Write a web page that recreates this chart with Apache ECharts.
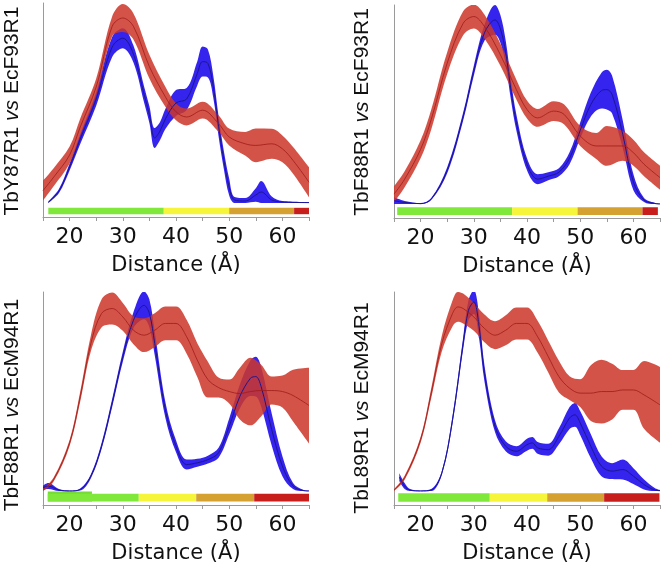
<!DOCTYPE html>
<html><head><meta charset="utf-8">
<script src="https://cdn.jsdelivr.net/npm/echarts@6/dist/echarts.min.js"></script>
<style>html,body{margin:0;padding:0;background:#fff}#c{width:664px;height:574px}</style>
</head><body><div id="c"></div>
<script>
// ---------- data (y in relative units: 0 = baseline, 100 = top) ----------
const xTickLabels = [20, 30, 40, 50, 60];
const panelTitlesA = ['TbY87R1', 'TbF88R1', 'TbF88R1', 'TbL89R1'];
const panelTitlesB = ['EcF93R1', 'EcF93R1', 'EcM94R1', 'EcM94R1'];
const xAxisTitle = 'Distance (Å)';

// Panel 1
const xRed1 = [15,17,20,22,25,28,30,32,35,38,40,42,45,48,50,53,55,58,60,62,65];
const redMid1 = [6.2,12.9,24,38,58,88.3,92.5,88.3,68.2,53.1,45.6,43.0,46.4,39.7,33.0,29.6,28.8,29.6,27.1,21.3,10.4];
const redHw1 = [5.0,4.5,4.2,4.2,4.2,5.0,7.0,6.5,5.9,5.0,4.2,4.2,4.2,4.2,4.2,5.9,8.4,7.5,6.7,6.7,7.5];
const xBlue1 = [16,18,20,22,25,28,30,32,34,35,36,37,38,40,42,44,45,46,47,48,49,50,51,53,55,56,58,60,65];
const blueMid1 = [0.3,6,18,32,52,78,82.4,74.5,54.3,44.2,32.5,36,42,50,52,64.8,70.7,69.8,58.3,38.4,21.4,7.9,1.5,1.0,4,5.5,1.5,0.5,0.2];
const blueHw1 = [0.5,1,1.7,2.5,3.4,5,5,4.2,4,4.2,5,4.5,5,6.5,5.5,6,7.5,7,5.5,5,4.5,4.2,1.5,1.5,3.4,5.5,1.7,0.5,0.3];
const barEdges1 = [16, 37.7, 50, 62.2, 65];

// Panel 2
const xRed2 = [15,17,20,22,25,28,30,32,35,38,40,42,45,47,50,53,55,58,60,62,65];
const redMid2 = [5.0,12.5,27.5,42.5,70.8,90.8,94.2,89.2,75,57.5,47.5,43.3,46.7,45,34.2,29.2,29.2,29.2,25.8,20,13.3];
const redHw2 = [4,4,4.5,5,5.5,6,6,6,5.5,5,4.5,4.5,5,5,5,6.5,10,7.5,6.5,6,6];
const xBlue2 = [15,17,20,22,25,28,30,32,34,35,36,37,38,40,42,44,46,48,50,52,54,55,56,58,60,62,64,65];
const blueMid2 = [1.7,0.8,0.2,2.5,17,44,67,86,92.5,88,76,57,41,20,12.5,14,16,23,37,50,57,57.5,55,35,11,2,0.3,0];
const blueHw2 = [1.7,0.8,0.3,0.5,1.5,2,2.5,4,7.5,7,6,5,4,3,2.5,2,2,3,4,6,9,10,9.5,7,4,1,0.3,0.2];
const barEdges2 = [15.6, 37.2, 49.5, 61.7, 64.6];

// Panel 3
const xRed3 = [15,17,20,22,24,26,28,30,32,34,36,38,40,42,44,46,48,50,52,54,56,58,60,62,65];
const redMid3 = [0.5,5.8,24.2,47.5,74.2,89.2,91.7,87.5,80.8,78.3,80.8,84.2,84.2,77.5,65.8,56,52,50,49,50,50.5,50.5,50,48,43];
const redHw3 = [0.5,1,1.5,2.5,4,7,8,7,7,8.5,8.5,8.5,8.5,8.5,8.5,9,5,6,13,17,13,7,8,13,19];
const xBlue3 = [15,16,18,20,22,24,26,28,30,32,34,35,36,38,40,42,44,46,48,50,52,54,55,56,58,60,62,64,65];
const blueMid3 = [1.7,2.5,0.5,0,0.8,7.5,22.5,44.2,67.5,85.8,93.3,89.2,74.2,40.8,22.5,13.3,14.2,15.8,19.2,32.5,47.5,56.7,57.5,52.5,30.8,12.5,2.5,0.2,0];
const blueHw3 = [1,1.5,0.5,0.3,0.5,1,1.5,2,2.5,4,7,7,6,4,3,2.5,2,2,2.5,4,6,9,10,10,8,5,1.5,0.3,0.2];
const barEdges3 = [15.9, 33, 43.8, 54.7, 65];
const barExtra3 = [15.9, 24.2];   // slightly taller green piece at the start of panel 3's bar

// Panel 4
const xRed4 = [15,17,20,22,24,26,27,28,30,32,34,36,38,40,42,44,46,48,50,52,54,56,58,60,62,65];
const redMid4 = [0.5,6.7,25.8,49.2,74.2,89.2,92.5,91.7,87.5,81.7,78.3,80.8,84.2,84.2,77.5,67.5,57.5,51.7,49.2,49.2,50,50,50.8,50.8,48.3,43.3];
const redHw4 = [0.5,1,1.5,2.5,4,6.5,7.5,7.5,7,7,7,7.5,8,8,8,8,8,6,7,14,16,14,10,10,17,19];
const xBlue4 = [16,17,18,20,22,24,26,28,29,30,31,32,34,36,38,40,41,42,44,46,48,49,50,52,54,56,58,60,62,64,65];
const blueMid4 = [7,2.5,0.5,0,0.5,9.2,35.8,74.2,90.8,95,82.5,59.2,32.5,22.5,20,23.3,24.2,21.7,20.8,27.5,36.7,38.3,34.2,22.5,12.5,10,10.8,7.5,3.3,0.5,0.2];
const blueHw4 = [2,1.5,0.5,0.3,0.5,1,2,3,5,6,6,4,3,2.5,2.5,3,3,3,3,4,5.5,6,6,6,5,4,5,4,2.5,1,0.3];
const barEdges4 = [15.8, 33, 43.8, 54.5, 64.9];

const barColors = ['#7fe83a', '#f7f43c', '#d5a131', '#c71e1c'];

// ---------- build ----------
const panels = [
  {xr: xRed1, rm: redMid1, rh: redHw1, xb: xBlue1, bm: blueMid1, bh: blueHw1, be: barEdges1, extra: null},
  {xr: xRed2, rm: redMid2, rh: redHw2, xb: xBlue2, bm: blueMid2, bh: blueHw2, be: barEdges2, extra: null},
  {xr: xRed3, rm: redMid3, rh: redHw3, xb: xBlue3, bm: blueMid3, bh: blueHw3, be: barEdges3, extra: barExtra3},
  {xr: xRed4, rm: redMid4, rh: redHw4, xb: xBlue4, bm: blueMid4, bh: blueHw4, be: barEdges4, extra: null}
];
const gridPos = [
  {left: 43, top: 3, width: 266, height: 214},
  {left: 394, top: 5, width: 266, height: 213},
  {left: 43, top: 292, width: 266, height: 213},
  {left: 394, top: 292, width: 266, height: 213}
];
const titlePos = [[12, 111], [362, 112], [12, 405], [362, 408]];
const barTop = [-2.4, -1.6, -1.4, -1.1];
const barBottom = [-5.6, -5.5, -5.3, -5.4];

const axisGray = '#9a9a9a';
const tickFont = 'DejaVu Sans';
const SMOOTH = 0.35;

const grids = [], xAxes = [], yAxes = [], series = [], graphics = [];

panels.forEach((p, i) => {
  grids.push(Object.assign({outerBoundsMode: 'none', containLabel: false}, gridPos[i]));
  xAxes.push({
    type: 'value', gridIndex: i, min: 15, max: 65, interval: 5,
    axisLine: {show: true, onZero: false, lineStyle: {color: axisGray, width: 1}},
    axisTick: {show: true, length: 4, lineStyle: {color: axisGray}},
    splitLine: {show: false},
    axisLabel: {
      margin: 9, color: '#111', fontFamily: tickFont, fontSize: 22,
      formatter: v => (xTickLabels.indexOf(v) >= 0 ? String(v) : '')
    },
    name: xAxisTitle, nameLocation: 'middle', nameGap: 38,
    nameTextStyle: {color: '#111', fontFamily: tickFont, fontSize: 21}
  });
  yAxes.push({
    type: 'value', gridIndex: i, min: -7, max: 100,
    axisLine: {show: true, onZero: false, lineStyle: {color: axisGray, width: 1}},
    axisTick: {show: false}, axisLabel: {show: false}, splitLine: {show: false}
  });

  // colour bar: [start, end, colourIndex, topOffset]
  const barData = [];
  if (p.extra) barData.push([p.extra[0], p.extra[1], 0, 1.2]);
  for (let k = 0; k < p.be.length - 1; k++) barData.push([p.be[k], p.be[k + 1], k, 0]);
  const bt = barTop[i], bb = barBottom[i];
  series.push({
    type: 'custom', xAxisIndex: i, yAxisIndex: i, data: barData, silent: true,
    encode: {x: [0, 1]},
    renderItem: (params, api) => {
      const a = api.coord([api.value(0), bt + api.value(3)]);
      const b = api.coord([api.value(1), bb]);
      const ci = api.value(2);
      return {type: 'rect', shape: {x: a[0], y: a[1], width: b[0] - a[0], height: b[1] - a[1]},
        style: {fill: api.value(3) > 0 ? '#74dc34' : barColors[ci]}};
    }
  });

  const common = {type: 'line', xAxisIndex: i, yAxisIndex: i, symbol: 'none', smooth: SMOOTH,
    silent: true, animation: false};
  // band series keep y in column 0 so that stacking acts on the y dimension
  const bandCommon = Object.assign({}, common, {encode: {x: 1, y: 0}, lineStyle: {width: 0, opacity: 0}});

  // blue band
  const bLo = p.xb.map((x, k) => [Math.max(0, p.bm[k] - p.bh[k]), x]);
  const bDiff = p.xb.map((x, k) => [p.bm[k] + p.bh[k] - Math.max(0, p.bm[k] - p.bh[k]), x]);
  series.push(Object.assign({}, bandCommon, {stack: 'blue' + i, data: bLo}));
  series.push(Object.assign({}, bandCommon, {stack: 'blue' + i, data: bDiff,
    areaStyle: {color: '#3424ee', opacity: 1}}));
  series.push(Object.assign({}, common, {data: p.xb.map((x, k) => [x, p.bm[k]]),
    lineStyle: {width: 1, color: '#1c1690'}}));

  // red band
  const rLo = p.xr.map((x, k) => [Math.max(0, p.rm[k] - p.rh[k]), x]);
  const rDiff = p.xr.map((x, k) => [p.rm[k] + p.rh[k] - Math.max(0, p.rm[k] - p.rh[k]), x]);
  series.push(Object.assign({}, bandCommon, {stack: 'red' + i, data: rLo}));
  series.push(Object.assign({}, bandCommon, {stack: 'red' + i, data: rDiff,
    areaStyle: {color: '#cd372a', opacity: 0.86}}));
  series.push(Object.assign({}, common, {data: p.xr.map((x, k) => [x, p.rm[k]]),
    lineStyle: {width: 1, color: '#9e1c18', opacity: 0.8}}));

  // y titles
  graphics.push({
    type: 'text', x: titlePos[i][0], y: titlePos[i][1], rotation: Math.PI / 2, silent: true,
    style: {
      text: '{n|' + panelTitlesA[i] + ' }{it|vs}{n| ' + panelTitlesB[i] + '}',
      align: 'center', verticalAlign: 'middle',
      rich: {
        n: {fontFamily: 'Liberation Sans', fontSize: 21, fill: '#111'},
        it: {fontFamily: 'Liberation Sans', fontSize: 21, fontStyle: 'italic', fill: '#111'}
      }
    }
  });
});

const chart = echarts.init(document.getElementById('c'), null, {renderer: 'canvas'});
chart.setOption({
  animation: false,
  backgroundColor: '#ffffff',
  grid: grids, xAxis: xAxes, yAxis: yAxes, series: series, graphic: graphics
});
</script></body></html>
